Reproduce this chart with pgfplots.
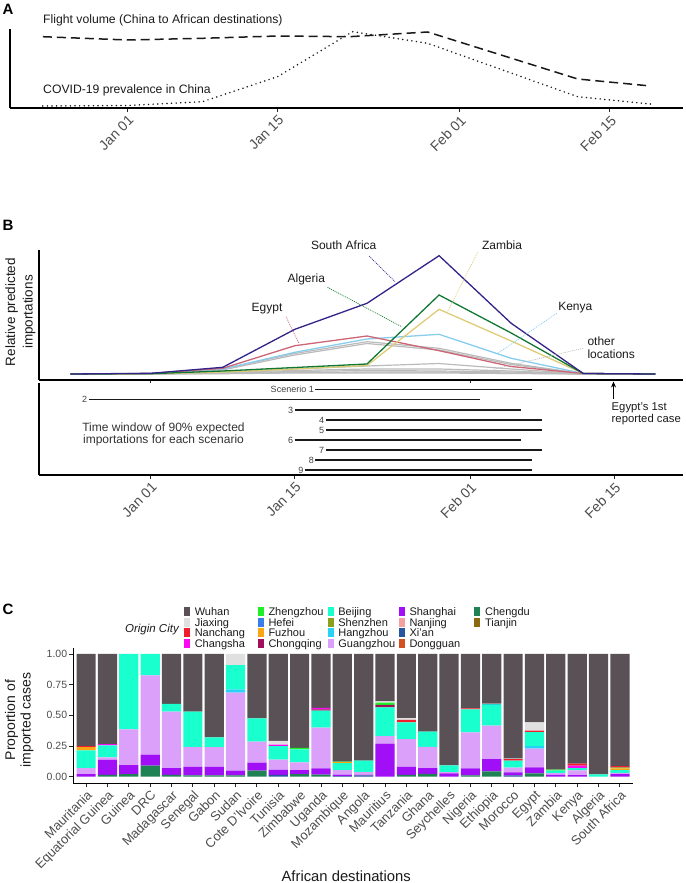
\documentclass[border=0pt]{standalone}
\usepackage{fontspec}
\setmainfont{Liberation Sans}
\usepackage{pgfplots}
\pgfplotsset{compat=1.18}
\usepackage{pgfplotstable}
\usetikzlibrary{arrows.meta}

\definecolor{tickgray}{HTML}{4D4D4D}
\definecolor{txt}{HTML}{1A1A1A}
\definecolor{cSA}{HTML}{332288}
\definecolor{cAL}{HTML}{117733}
\definecolor{cZA}{HTML}{DDCC77}
\definecolor{cEG}{HTML}{CC6677}
\definecolor{cKE}{HTML}{88CCEE}
\definecolor{cOT}{HTML}{BBBBBB}

\definecolor{cWuhan}{RGB}{89,81,86}
\definecolor{cJiaxing}{RGB}{224,224,224}
\definecolor{cNanchang}{RGB}{240,30,45}
\definecolor{cChangsha}{RGB}{250,10,240}
\definecolor{cZhengzhou}{RGB}{30,240,40}
\definecolor{cHefei}{RGB}{55,125,235}
\definecolor{cFuzhou}{RGB}{250,165,20}
\definecolor{cChongqing}{RGB}{160,15,90}
\definecolor{cBeijing}{RGB}{25,255,205}
\definecolor{cShenzhen}{RGB}{140,160,30}
\definecolor{cHangzhou}{RGB}{40,210,245}
\definecolor{cGuangzhou}{RGB}{218,160,250}
\definecolor{cShanghai}{RGB}{160,15,245}
\definecolor{cNanjing}{RGB}{245,160,160}
\definecolor{cXian}{RGB}{40,85,160}
\definecolor{cDongguan}{RGB}{210,80,35}
\definecolor{cChengdu}{RGB}{30,130,85}
\definecolor{cTianjin}{RGB}{140,105,15}

\pgfplotstableread{
x Tianjin Chengdu Dongguan Xian Nanjing Shanghai Guangzhou Hangzhou Shenzhen Beijing Chongqing Fuzhou Hefei Zhengzhou Changsha Nanchang Jiaxing Wuhan
0  0 0     0 0     0 0.02  0.05  0     0 0.145 0    0.025 0     0     0     0.01  0     0.75
1  0 0.015 0 0     0 0.121 0.022 0     0 0.097 0    0     0     0     0.01  0     0     0.735
2  0 0.02  0 0     0 0.075 0.291 0     0 0.614 0    0     0     0     0     0     0     0
3  0 0.09  0 0     0 0.09  0.646 0     0 0.174 0    0     0     0     0     0     0     0
4  0 0.015 0 0     0 0.055 0.46  0     0 0.063 0    0     0     0     0     0     0     0.407
5  0 0.01  0 0     0 0.07  0.16  0     0 0.29  0    0     0     0     0     0     0     0.47
6  0 0.01  0 0     0 0.07  0.16  0     0 0.08  0    0     0     0     0     0     0     0.68
7  0 0.01  0 0     0 0.04  0.635 0.027 0 0.196 0    0     0     0     0     0     0.092 0
8  0 0.05  0 0     0 0.064 0.171 0     0 0.191 0    0     0     0     0     0     0     0.524
9  0 0     0 0.015 0 0.04  0.085 0     0 0.11  0    0     0     0     0.012 0     0.03  0.708
10 0 0.02  0 0     0 0.034 0.063 0     0 0.106 0    0     0     0.012 0     0     0     0.765
11 0 0.016 0 0     0 0.052 0.332 0     0 0.138 0.01 0     0     0     0.012 0     0     0.44
12 0 0     0 0.005 0 0.011 0.038 0     0 0.056 0    0.008 0     0.004 0     0     0     0.878
13 0 0     0 0.01  0 0.005 0.023 0     0 0.092 0    0     0     0     0     0     0     0.87
14 0 0     0 0     0 0.27  0.06  0     0 0.235 0.02 0     0     0.018 0     0     0.011 0.386
15 0 0.014 0 0     0 0.066 0.227 0     0 0.136 0    0     0     0     0     0.02  0.015 0.522
16 0 0.022 0 0     0 0.048 0.172 0     0 0.125 0    0     0     0     0     0     0     0.633
17 0 0     0 0     0 0.027 0.011 0     0 0.054 0    0     0     0     0     0     0     0.908
18 0 0.011 0 0     0 0.057 0.293 0     0 0.188 0    0     0     0     0     0.008 0     0.443
19 0 0.043 0 0     0 0.101 0.272 0     0 0.174 0    0     0.005 0     0     0     0     0.405
20 0 0     0 0.01  0 0.025 0.038 0     0 0.057 0    0     0     0     0     0.014 0.003 0.853
21 0 0.027 0 0     0 0.049 0.152 0.022 0 0.114 0    0     0     0     0     0.011 0.068 0.557
22 0 0     0 0     0 0.014 0.016 0     0 0.019 0    0     0     0.008 0     0     0     0.943
23 0 0     0 0     0 0.012 0.04  0     0 0.018 0    0     0     0     0.02  0.016 0     0.894
24 0 0     0 0     0 0     0     0     0 0.018 0    0     0     0     0     0     0     0.982
25 0 0     0 0     0 0.02  0.012 0     0 0.022 0    0.013 0     0.006 0     0.014 0     0.913
}\barData

\pgfplotsset{
  datebase/.style={scale only axis, enlargelimits=false, clip=false,
    axis x line*=bottom, axis y line*=left,
    axis line style={line width=1.1pt, black},
    ytick=\empty, tick align=outside, major tick length=4pt,
    xtick style={line width=0.9pt, color=black!85},
    xtick={0,14,31,45}, xticklabels={Jan 01,Jan 15,Feb 01,Feb 15},
    x tick label style={rotate=45, anchor=north east, font=\fontsize{14}{16}\selectfont, text=tickgray, inner sep=1.5pt},
  },
  oth/.style={cOT, line width=1.2pt},
}

\newcommand{\legkey}[4]{%
  \fill[#3] (#1-2.9,#2-4.6) rectangle (#1+2.9,#2+4.6);
  \node[anchor=base west, inner sep=0pt, font=\fontsize{11}{11}\selectfont, text=txt] at (#1+7.6,#2-3.9) {#4};
}

\begin{document}
\begin{tikzpicture}[x=1pt,y=1pt]
\useasboundingbox (0,0) rectangle (685,-883);

% ---------------- Panel A ----------------
\node[font=\fontsize{15}{15}\selectfont\bfseries] at (8,-9) {A};
\begin{axis}[datebase, at={(10pt,-108pt)}, anchor=south west,
  width=673pt, height=79pt, xmin=-10.96, xmax=51.82, ymin=0, ymax=79]
\addplot[black!90, line width=1.5pt, dash pattern=on 9pt off 5pt] coordinates {
 (-7.9,71.3) (0,68) (7,69.7) (14,72) (20.7,71.3) (28,76) (35,52.5) (42,29) (48.8,22)};
\addplot[black!90, line width=1.7pt, line cap=round, dash pattern=on 0pt off 4.6pt] coordinates {
 (-7.9,2) (0,2.5) (7,6.3) (14,31.3) (21,76.3) (28,64.7) (35,38) (42,11.3) (49,3.7)};
\end{axis}
\node[anchor=west, inner sep=0pt, font=\fontsize{12.2}{14}\selectfont, text=txt] at (43,-20) {Flight volume (China to African destinations)};
\node[anchor=west, inner sep=0pt, font=\fontsize{12.2}{14}\selectfont, text=txt] at (43,-90.5) {COVID-19 prevalence in China};

% ---------------- Panel B (top) ----------------
\node[font=\fontsize{15}{15}\selectfont\bfseries] at (8,-225) {B};
\begin{axis}[datebase, at={(39pt,-380pt)}, anchor=south west,
  width=644pt, height=130pt, xmin=-10.84, xmax=51.68, ymin=-6, ymax=124,
  xtick={0,31}, xticklabels={}, major tick length=3pt]
\addplot[oth] coordinates {(-7.8,0)(0,0)(7,0.3)(14,1)(21,1)(28,1)(35,0.5)(42,0)(49,0)};
\addplot[oth] coordinates {(-7.8,0)(0,0)(7,0.5)(14,1.5)(21,2)(28,2)(35,1)(42,0)(49,0)};
\addplot[oth] coordinates {(-7.8,0)(0,0.1)(7,1)(14,2.5)(21,3.5)(28,3)(35,2)(42,0.1)(49,0)};
\addplot[oth] coordinates {(-7.8,0)(0,0.1)(7,1.5)(14,3.5)(21,5)(28,5)(35,3)(42,0.1)(49,0)};
\addplot[oth] coordinates {(-7.8,0)(0,0.2)(7,2)(14,5)(21,8)(28,10.5)(35,5)(42,0.2)(49,0)};
\addplot[oth] coordinates {(-7.8,0)(0,0.3)(7,4)(14,19)(21,30.5)(28,24)(35,9.5)(42,0.3)(49,0)};
\addplot[oth] coordinates {(-7.8,0)(0,0.5)(7,5)(14,20.5)(21,32.3)(28,25.7)(35,10.7)(42,0.3)(49,0)};
\addplot[cKE, line width=1.3pt] coordinates {(-7.8,0)(0,0.5)(7,5)(14,21.7)(21,35)(28,39.7)(35,15.7)(42,0.5)(49,0)};
\addplot[cEG, line width=1.3pt] coordinates {(-7.8,0)(0,0.5)(7,5.7)(14,28.3)(21,38)(28,23.3)(35,7.5)(42,0.5)(49,0)};
\addplot[cZA, line width=1.3pt] coordinates {(-7.8,0)(0,0.2)(7,2)(14,5)(21,8.5)(28,64.7)(35,33)(42,0.5)(49,0)};
\addplot[cAL, line width=1.3pt] coordinates {(-7.8,0)(0,0.3)(7,3)(14,6.5)(21,10)(28,79)(35,41)(42,0.5)(49,0)};
\addplot[cSA, line width=1.3pt] coordinates {(-7.8,0)(0,0.7)(7,6.7)(14,44.7)(21,70.7)(28,118.3)(35,50.7)(42,0.5)(49,0)};
\end{axis}
\begin{scope}[font=\fontsize{12}{12.7}\selectfont, text=txt]
\node at (343.7,-245) {South Africa};
\node at (502,-245) {Zambia};
\node at (306.3,-279.3) {Algeria};
\node at (267,-308.3) {Egypt};
\node at (575.3,-307.3) {Kenya};
\node[anchor=north west, align=left, inner sep=0pt] at (587.3,-337) {other\\locations};
\end{scope}
\draw[cSA, line width=0.7pt, dash pattern=on 1pt off 1pt] (369,-256) -- (395,-281.7);
\draw[cAL, line width=0.7pt, dash pattern=on 1pt off 1pt] (327.5,-287.3) -- (401.7,-326.7);
\draw[cEG, line width=0.7pt, dash pattern=on 1pt off 1pt] (286,-316.7) -- (299,-343.3);
\draw[cZA, line width=0.7pt, dash pattern=on 1pt off 1pt] (478,-251.7) -- (447.6,-311.7);
\draw[cKE, line width=0.7pt, dash pattern=on 1pt off 1pt] (556.8,-313.3) -- (497.8,-353.3);
\draw[cOT, line width=0.7pt, dash pattern=on 1pt off 1pt] (583,-348.3) -- (493.4,-369.3);
\draw[-{Stealth[length=6pt,width=5pt]}, line width=1.3pt] (613.5,-398.5) -- (613.5,-381.5);
\node[anchor=north west, align=left, inner sep=0pt, font=\fontsize{11.3}{12}\selectfont, text=txt] at (611.5,-403) {Egypt's 1st\\reported case};

% ---------------- Panel B (bottom) ----------------
\begin{axis}[datebase, at={(39pt,-475pt)}, anchor=south west,
  width=644pt, height=92pt, xmin=-10.84, xmax=51.68, ymin=0, ymax=92]
\addplot[black!90, line width=1.5pt] coordinates {(16,85.7) (37,85.7)};
\addplot[black!90, line width=1.5pt] coordinates {(-6,75.7) (32,75.7)};
\addplot[black!90, line width=1.5pt] coordinates {(14,65) (36,65)};
\addplot[black!90, line width=1.5pt] coordinates {(17,55) (38,55)};
\addplot[black!90, line width=1.5pt] coordinates {(17,45) (38,45)};
\addplot[black!90, line width=1.5pt] coordinates {(14,35) (36,35)};
\addplot[black!90, line width=1.5pt] coordinates {(17,25) (38,25)};
\addplot[black!90, line width=1.5pt] coordinates {(16,15) (37,15)};
\addplot[black!90, line width=1.5pt] coordinates {(15,5) (37,5)};
\begin{scope}[every node/.style={anchor=east, inner sep=1.5pt, font=\fontsize{9}{9}\selectfont, text=black!75}]
\node at (axis cs:16,85.7) {Scenerio 1};
\node at (axis cs:-6,75.7) {2};
\node at (axis cs:14,65) {3};
\node at (axis cs:17,55) {4};
\node at (axis cs:17,45) {5};
\node at (axis cs:14,35) {6};
\node at (axis cs:17,25) {7};
\node at (axis cs:16,15) {8};
\node at (axis cs:15,5) {9};
\end{scope}
\end{axis}
\node[align=center, font=\fontsize{12}{12}\selectfont, text=black!80] at (163.5,-434) {Time window of 90\% expected\\importations for each scenario};
\node[rotate=90, align=center, font=\fontsize{13.5}{17.5}\selectfont, text=txt] at (20.5,-312) {Relative predicted\\importations};

% ---------------- Panel C ----------------
\node[font=\fontsize{15}{15}\selectfont\bfseries] at (8,-609) {C};
\node[anchor=base east, inner sep=0pt, font=\fontsize{11.5}{11.5}\itshape, text=txt] at (179,-632) {Origin City};
\legkey{187}{-611.7}{cWuhan}{Wuhan}
\legkey{187}{-622.2}{cJiaxing}{Jiaxing}
\legkey{187}{-632.7}{cNanchang}{Nanchang}
\legkey{187}{-643.2}{cChangsha}{Changsha}
\legkey{260.7}{-611.7}{cZhengzhou}{Zhengzhou}
\legkey{260.7}{-622.2}{cHefei}{Hefei}
\legkey{260.7}{-632.7}{cFuzhou}{Fuzhou}
\legkey{260.7}{-643.2}{cChongqing}{Chongqing}
\legkey{330.6}{-611.7}{cBeijing}{Beijing}
\legkey{330.6}{-622.2}{cShenzhen}{Shenzhen}
\legkey{330.6}{-632.7}{cHangzhou}{Hangzhou}
\legkey{330.6}{-643.2}{cGuangzhou}{Guangzhou}
\legkey{401.7}{-611.7}{cShanghai}{Shanghai}
\legkey{401.7}{-622.2}{cNanjing}{Nanjing}
\legkey{401.7}{-632.7}{cXian}{Xi'an}
\legkey{401.7}{-643.2}{cDongguan}{Dongguan}
\legkey{477.3}{-611.7}{cChengdu}{Chengdu}
\legkey{477.3}{-622.2}{cTianjin}{Tianjin}

\begin{axis}[at={(73.3pt,-783.3pt)}, anchor=south west, scale only axis,
  width=559.4pt, height=135pt, enlargelimits=false,
  xmin=-0.6, xmax=25.6, ymin=-0.054, ymax=1.046,
  ybar stacked, bar width=0.9,
  axis x line*=bottom, axis y line*=left,
  axis line style={line width=1.1pt, black},
  tick align=outside, major tick length=4pt,
  tick style={line width=0.9pt, color=black!85},
  ytick={0,0.25,0.5,0.75,1}, yticklabels={0.00,0.25,0.50,0.75,1.00},
  y tick label style={font=\fontsize{10.5}{12}\selectfont, text=tickgray, inner sep=2pt},
  xtick={0,...,25},
  xticklabels={Mauritania,Equatorial Guinea,Guinea,DRC,Madagascar,Senegal,Gabon,Sudan,Cote D'Ivoire,Tunisia,Zimbabwe,Uganda,Mozambique,Angola,Mauritius,Tanzania,Ghana,Seychelles,Nigeria,Ethiopia,Morocco,Egypt,Zambia,Kenya,Algeria,South Africa},
  x tick label style={rotate=45, anchor=north east, font=\fontsize{13}{15}\selectfont, text=tickgray, inner sep=1.5pt},
]
\pgfplotsinvokeforeach{Tianjin,Chengdu,Dongguan,Xian,Nanjing,Shanghai,Guangzhou,Hangzhou,Shenzhen,Beijing,Chongqing,Fuzhou,Hefei,Zhengzhou,Changsha,Nanchang,Jiaxing,Wuhan}{
  \addplot+[ybar, fill=c#1, draw=none, mark=none] table[x=x, y=#1] {\barData};
}
\end{axis}
\node[rotate=90, align=center, font=\fontsize{14}{15.5}\selectfont, text=txt] at (19.2,-720) {Proportion of\\imported cases};
\node[anchor=base, inner sep=0pt, font=\fontsize{14.8}{16}\selectfont, text=txt] at (346.2,-881) {African destinations};
\end{tikzpicture}
\end{document}
